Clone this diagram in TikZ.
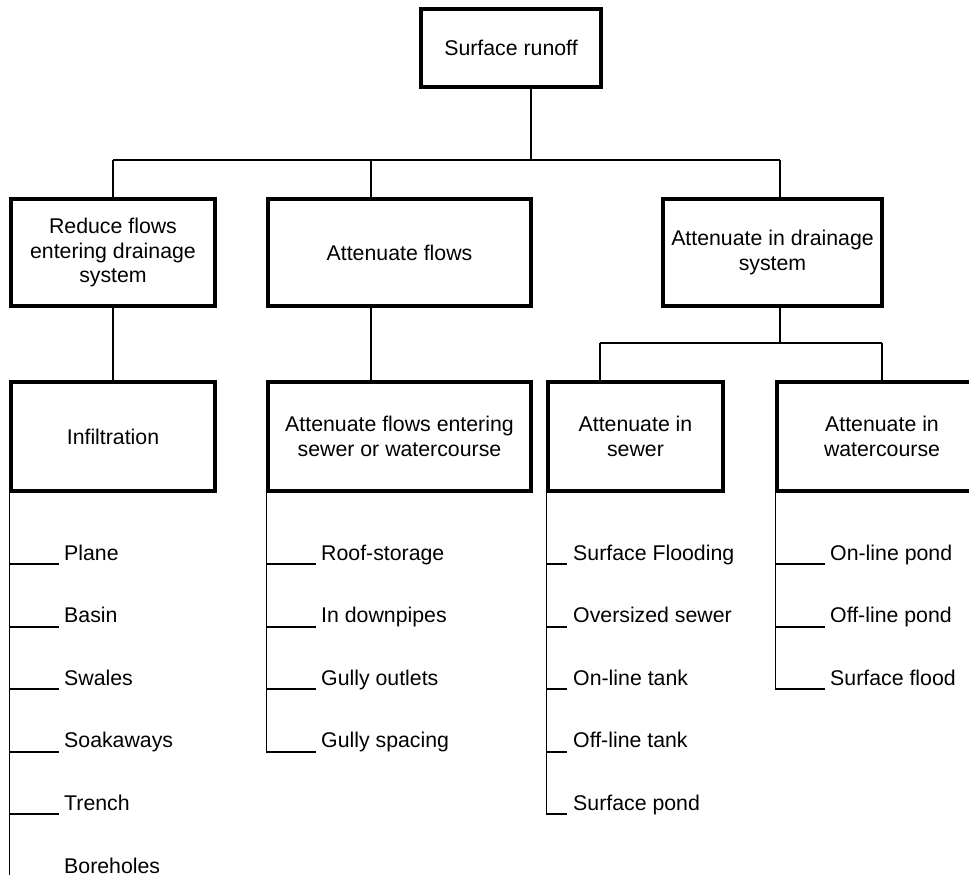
\documentclass[tikz,border=0pt]{standalone}
\usepackage{fontspec}
\setmainfont{Liberation Sans}
\newcommand\dfont{\fontsize{21.3}{24.3}\selectfont}
\begin{document}
\begin{tikzpicture}[x=1pt,y=-1pt,
  box/.style={draw,line width=3.2pt,inner sep=0pt,align=center,font=\dfont},
  conn/.style={line width=1.8pt},
  tickline/.style={line width=2pt},
  item/.style={anchor=base west,inner sep=0pt,font=\dfont}]
\useasboundingbox (0,0) rectangle (969,875);
% boxes
\node[box,minimum width=180pt,minimum height=78pt] (sr) at (511,48) {Surface runoff};
\node[box,minimum width=204pt,minimum height=107pt] (b1) at (113,252.5) {Reduce flows\\entering drainage\\system};
\node[box,minimum width=263pt,minimum height=107pt] (b2) at (399.5,252.5) {Attenuate flows};
\node[box,minimum width=219pt,minimum height=107pt] (b3) at (772.5,252.5) {Attenuate in drainage\\system};
\node[box,minimum width=204pt,minimum height=109pt] (c1) at (113,436.5) {Infiltration};
\node[box,minimum width=263pt,minimum height=109pt] (c2) at (399.5,436.5) {Attenuate flows entering\\sewer or watercourse};
\node[box,minimum width=175pt,minimum height=109pt] (c3) at (635.5,436.5) {Attenuate in\\sewer};
\node[box,minimum width=210pt,minimum height=109pt] (c4) at (882,436.5) {Attenuate in\\watercourse};
% connectors level 1
\coordinate (j0) at (531,160);
\coordinate (ja) at (113,160);
\coordinate (jb) at (371,160);
\coordinate (jc) at (780,160);
\draw[conn] (sr.south -| j0) -- (j0);
\draw[conn] (ja) -- (jc);
\draw[conn] (ja) -- (ja |- b1.north);
\draw[conn] (jb) -- (jb |- b2.north);
\draw[conn] (jc) -- (jc |- b3.north);
% connectors level 2
\coordinate (jd) at (780,343);
\coordinate (je) at (600,343);
\coordinate (jf) at (882,343);
\draw[conn] (ja |- b1.south) -- (ja |- c1.north);
\draw[conn] (jb |- b2.south) -- (jb |- c2.north);
\draw[conn] (jc |- b3.south) -- (jd);
\draw[conn] (je) -- (jf);
\draw[conn] (je) -- (je |- c3.north);
\draw[conn] (jf) -- (jf |- c4.north);
% list under Infiltration
\foreach \t [count=\k] in {Plane,Basin,Swales,Soakaways,Trench} {
  \coordinate (ta\k) at (c1.south west |- 0,{564+62.6*(\k-1)});
  \draw[tickline] (ta\k) -- ++(50,0);
  \node[item] (la\k) at (64,{560+62.6*(\k-1)}) {\t};
}
\node[item] (la6) at (64,{560+62.6*5}) {Boreholes};
\coordinate (taend) at (c1.south west |- 0,875);
\draw[conn] (c1.south west) -- (taend);
% list under Attenuate flows entering
\foreach \t [count=\k] in {Roof-storage,In downpipes,Gully outlets,Gully spacing} {
  \coordinate (tb\k) at (c2.south west |- 0,{564+62.6*(\k-1)});
  \draw[tickline] (tb\k) -- ++(50,0);
  \node[item] (lb\k) at (321,{560+62.6*(\k-1)}) {\t};
}
\draw[conn] (c2.south west) -- (tb4);
% list under Attenuate in sewer
\foreach \t [count=\k] in {Surface Flooding,Oversized sewer,On-line tank,Off-line tank,Surface pond} {
  \coordinate (tc\k) at (c3.south west |- 0,{564+62.6*(\k-1)});
  \draw[tickline] (tc\k) -- ++(21,0);
  \node[item] (lc\k) at (573,{560+62.6*(\k-1)}) {\t};
}
\draw[conn] (c3.south west) -- (tc5);
% list under Attenuate in watercourse
\foreach \t [count=\k] in {On-line pond,Off-line pond,Surface flood} {
  \coordinate (td\k) at (c4.south west |- 0,{564+62.6*(\k-1)});
  \draw[tickline] (td\k) -- ++(50,0);
  \node[item] (ld\k) at (830,{560+62.6*(\k-1)}) {\t};
}
\draw[conn] (c4.south west) -- (td3);
\end{tikzpicture}
\end{document}
